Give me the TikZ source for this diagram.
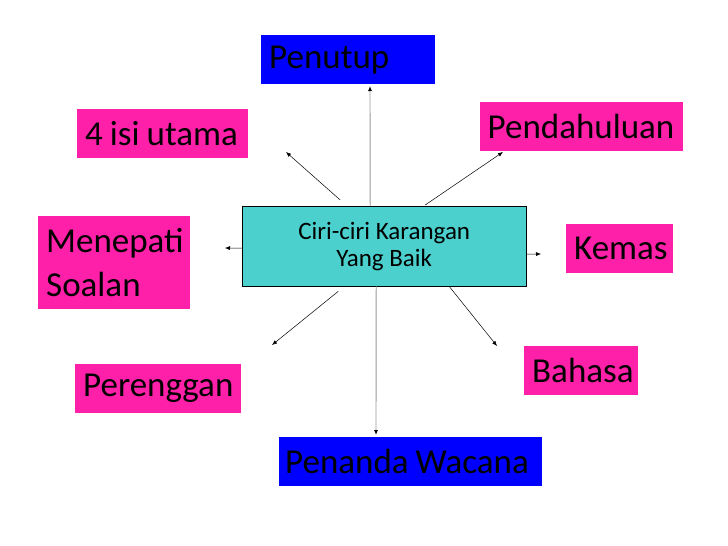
\documentclass[tikz,border=0pt]{standalone}
\usepackage{fontspec}
\setmainfont{Carlito}
\usetikzlibrary{arrows.meta}
\definecolor{kotakPink}{RGB}{255,32,170}
\definecolor{kotakBiru}{RGB}{0,0,255}
\definecolor{kotakCyan}{RGB}{75,208,206}
\newcommand\sela{\hspace{0.2em}}
\begin{document}
\begin{tikzpicture}[x=1pt, y=-1pt, >={Latex[length=5pt,width=4pt,color=black]},
    kotak/.style={rectangle, anchor=north west, inner xsep=8pt, inner ysep=0pt, minimum height=49pt, font=\fontsize{35}{40}\selectfont},
    pink/.style={kotak, fill=kotakPink},
    biru/.style={kotak, fill=kotakBiru},
    garis/.style={->, line width=0.5pt},
    garisKelabu/.style={->, line width=0.9pt, draw=black!40}]
        \useasboundingbox (0,0) rectangle (728,546);

        % Kotak utama di tengah
        \node[draw, fill=kotakCyan, anchor=north west, minimum width=284pt, minimum height=80pt, align=center, font=\fontsize{25}{27}\selectfont] (C) at (242,206) {Ciri-ciri Karangan\\Yang Baik};

        % Kotak-kotak di sekeliling
        \node[biru, text width=158pt] (Pen) at (261,35) {Penutup};
        \node[pink, text width=155pt] (Isi) at (77,109) {\mbox{4\sela isi\sela utama}};
        \node[pink, text width=188pt, inner xsep=7.5pt] (Pend) at (480,102) {Pendahuluan};
        \node[pink, text width=136pt, minimum height=93pt, font=\fontsize{35}{44}\selectfont] (Men) at (38,216) {Menepati\\Soalan};
        \node[pink, text width=91pt] (Kem) at (566,224) {Kemas};
        \node[pink, text width=98pt] (Bah) at (524,346) {Bahasa};
        \node[pink, text width=150pt] (Per) at (75,364) {Perenggan};
        \node[biru, text width=251pt, inner xsep=6pt] (Wac) at (279,437) {\mbox{Penanda\sela Wacana}};

        % Hujung anak panah
        \coordinate (tPen) at (370,86);
        \coordinate (tIsi) at (286,152);
        \coordinate (tPend) at (503,152);
        \coordinate (tMen) at (225,248);
        \coordinate (tKem) at (541,254);
        \coordinate (tPer) at (272,345);
        \coordinate (tBah) at (497,346);
        \coordinate (tWac) at (376,435);

        % Anak panah dari kotak utama
        \draw[garisKelabu] ([xshift=-14pt]C.north) -- (tPen);
        \draw[garis] ([xshift=-44pt,yshift=6pt]C.north) -- (tIsi);
        \draw[garis] ([xshift=41pt,yshift=1pt]C.north) -- (tPend);
        \draw[garis] ([yshift=-2pt]C.west) -- (tMen);
        \draw[garis] ([yshift=-8pt]C.east) -- (tKem);
        \draw[garis] ([xshift=-46pt,yshift=-5pt]C.south) -- (tPer);
        \draw[garis] ([xshift=65pt]C.south) -- (tBah);
        \draw[garisKelabu] ([xshift=-8pt]C.south) -- (tWac);
    \end{tikzpicture}
\end{document}
